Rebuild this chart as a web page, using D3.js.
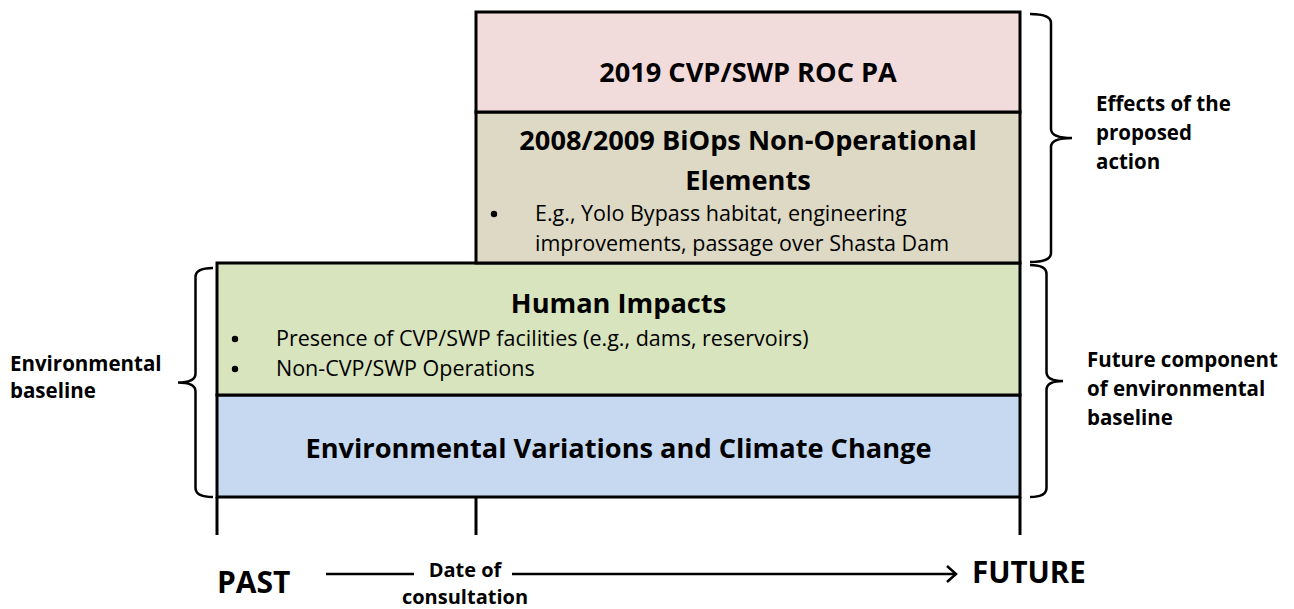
<!DOCTYPE html>
<html>
<head>
<meta charset="utf-8">
<script src="https://cdn.jsdelivr.net/npm/d3@7"></script>
<style>
  body { margin: 0; background: #fff; }
  text { font-family: "Open Sans", Lato, sans-serif; fill: #000; }
</style>
</head>
<body>
<div id="chart"></div>
<script>
// timeline stops, bottom to top layers
const timeKeys = ["PAST", "Date of consultation", "FUTURE"]
const layerNames = ["Environmental Variations and Climate Change", "Human Impacts",
  "2008/2009 BiOps Non-Operational Elements", "2019 CVP/SWP ROC PA"]
const layerStart = ["PAST", "PAST", "Date of consultation", "Date of consultation"]
const layerTitleLines = [
  ["Environmental Variations and Climate Change"],
  ["Human Impacts"],
  ["2008/2009 BiOps Non-Operational", "Elements"],
  ["2019 CVP/SWP ROC PA"]
]
const layerBullets = [
  [],
  [["Presence of CVP/SWP facilities (e.g., dams, reservoirs)"], ["Non-CVP/SWP Operations"]],
  [["E.g., Yolo Bypass habitat, engineering", "improvements, passage over Shasta Dam"]],
  []
]
const layerColors = ["#c6d9f1", "#d7e4bd", "#ddd9c4", "#f2dcdb"]
const braceGroups = [
  { from: 0, to: 1, side: "left", lines: ["Environmental", "baseline"] },
  { from: 2, to: 3, side: "right", lines: ["Effects of the", "proposed", "action"] },
  { from: 0, to: 1, side: "right", lines: ["Future component", "of environmental", "baseline"] }
]

const WIDTH = 1294, HEIGHT = 609

const x = d3.scaleOrdinal().domain(timeKeys).range([217, 476, 1020])
// layer boundaries, level 0 = bottom of the stack
const y = d3.scaleOrdinal().domain([0, 1, 2, 3, 4]).range([497, 395, 263, 112, 12])
const color = d3.scaleOrdinal().domain(layerNames).range(layerColors)

// where the text sits inside each box
const TITLE_OFFSET = [63, 50, 38, 70]
const BULLET_OFFSET = [0, 83, 109, 0]
// brace depth / label shift, one per brace group
const BRACE_DEPTH = [35, 42, 33]
const LABEL_SHIFT = [3, 2, 15]

const svg = d3.select("#chart").append("svg")
  .attr("width", WIDTH)
  .attr("height", HEIGHT)

const layers = layerNames.map((name, i) => ({
  name, i,
  x0: x(layerStart[i]), x1: x("FUTURE"),
  y0: y(i + 1), y1: y(i)
}))

const g = svg.selectAll("g.layer")
  .data(layers)
  .enter().append("g")
  .attr("class", "layer")

g.append("rect")
  .attr("x", d => d.x0)
  .attr("y", d => d.y0)
  .attr("width", d => d.x1 - d.x0)
  .attr("height", d => d.y1 - d.y0)
  .attr("fill", d => color(d.name))
  .attr("stroke", "#000")
  .attr("stroke-width", 3)

g.each(function (d) {
  const sel = d3.select(this)
  const cx = (d.x0 + d.x1) / 2
  layerTitleLines[d.i].forEach((line, k) => {
    sel.append("text")
      .attr("x", cx)
      .attr("y", d.y0 + TITLE_OFFSET[d.i] + k * 40)
      .attr("text-anchor", "middle")
      .attr("font-weight", "bold")
      .attr("font-size", 27.2)
      .text(line)
  })
  let row = 0
  layerBullets[d.i].forEach(item => {
    // bullet dot
    sel.append("circle")
      .attr("cx", d.x0 + 18)
      .attr("cy", d.y0 + BULLET_OFFSET[d.i] + row * 30 - 7)
      .attr("r", 3.2)
      .attr("fill", "#000")
    item.forEach(line => {
      sel.append("text")
        .attr("x", d.x0 + 59)
        .attr("y", d.y0 + BULLET_OFFSET[d.i] + row * 30)
        .attr("font-size", 21.5)
        .text(line)
      row++
    })
  })
})

// curly brace: ends at ex, tip points in dir, depth w
function brace(ex, y0, y1, dir, w) {
  const xs = ex + dir * w * 0.5, xt = ex + dir * w, r = 9, ym = (y0 + y1) / 2
  return `M${ex},${y0} Q${xs},${y0} ${xs},${y0 + r} L${xs},${ym - r} Q${xs},${ym} ${xt},${ym}` +
    ` Q${xs},${ym} ${xs},${ym + r} L${xs},${y1 - r} Q${xs},${y1} ${ex},${y1}`
}

braceGroups.forEach((b, i) => {
  const left = b.side === "left"
  const top = y(b.to + 1) + (left ? 5 : 2)
  const bot = b.from === 2 ? y(2) - 1 : y(b.from)
  const dir = left ? -1 : 1
  const ex = left ? x("PAST") - 4 : x("FUTURE") + 10
  const ym = (top + bot) / 2
  svg.append("path")
    .attr("d", brace(ex, top, bot, dir, BRACE_DEPTH[i]))
    .attr("fill", "none")
    .attr("stroke", "#000")
    .attr("stroke-width", 2.5)
  const lab = svg.append("text")
    .attr("font-weight", "bold")
    .attr("font-size", 20.5)
  const lx = left ? 10 : ex + BRACE_DEPTH[i] + 24
  const lh = left ? 27 : 29
  const startY = ym - (b.lines.length - 1) * 29 / 2 + LABEL_SHIFT[i]
  b.lines.forEach((line, k) => {
    lab.append("tspan").attr("x", lx).attr("y", startY + k * lh).text(line)
  })
})

// timeline ticks
svg.selectAll("line.tick")
  .data(timeKeys)
  .enter().append("line")
  .attr("class", "tick")
  .attr("x1", d => x(d)).attr("x2", d => x(d))
  .attr("y1", y(0)).attr("y2", y(0) + 38)
  .attr("stroke", "#000")
  .attr("stroke-width", 3)

// bottom labels
svg.append("text")
  .attr("x", x("PAST"))
  .attr("y", 593)
  .attr("font-weight", "bold")
  .attr("font-size", 30)
  .text("PAST")

svg.append("text")
  .attr("x", x("FUTURE") - 48)
  .attr("y", 583)
  .attr("font-weight", "bold")
  .attr("font-size", 29.5)
  .text("FUTURE")

const dateLab = svg.append("text")
  .attr("text-anchor", "middle")
  .attr("font-weight", "bold")
  .attr("font-size", 20)
dateLab.append("tspan").attr("x", x("Date of consultation") - 11).attr("y", 577).text("Date of")
dateLab.append("tspan").attr("x", x("Date of consultation") - 11).attr("y", 604).text("consultation")

svg.append("line")
  .attr("x1", 326).attr("x2", 414)
  .attr("y1", 574).attr("y2", 574)
  .attr("stroke", "#000").attr("stroke-width", 2.5)

svg.append("line")
  .attr("x1", x("Date of consultation") + 36).attr("x2", x("FUTURE") - 64)
  .attr("y1", 574).attr("y2", 574)
  .attr("stroke", "#000").attr("stroke-width", 2.5)

svg.append("path")
  .attr("d", `M${x("FUTURE") - 73},566 L${x("FUTURE") - 64},574 L${x("FUTURE") - 73},582`)
  .attr("fill", "none")
  .attr("stroke", "#000").attr("stroke-width", 2.5)
</script>
</body>
</html>
